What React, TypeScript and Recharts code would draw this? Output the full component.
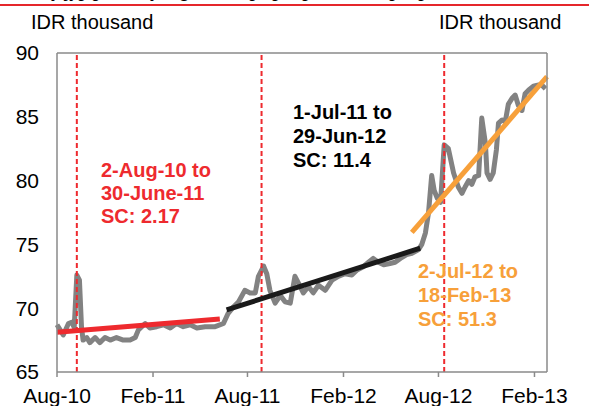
import { LineChart, Line, XAxis, YAxis, ReferenceLine } from 'recharts'

/* ── Data (days counted from 1-Aug-2010) ── */
const tickDays = [0, 184, 365, 549, 731, 915]
const tickLabels = ['Aug-10', 'Feb-11', 'Aug-11', 'Feb-12', 'Aug-12', 'Feb-13']
const yTicks = [65, 70, 75, 80, 85, 90]

const priceDays = [
  0, 6, 12, 22, 28, 33, 38, 43, 47, 50, 57, 63, 73, 82, 92, 102, 114, 127, 140, 150,
  156, 169, 178, 191, 204, 217, 229, 242, 255, 268, 284, 303, 319, 328, 338, 348, 360, 370, 380, 386,
  396, 402, 408, 418, 428, 437, 447, 456, 463, 472, 482, 491, 501, 514, 527, 539, 552, 565, 575, 587,
  597, 606, 616, 626, 638, 648, 658, 670, 680, 693, 699, 706, 712, 718, 723, 729, 735, 742, 750, 760,
  769, 776, 782, 789, 795, 801, 808, 814, 821, 824, 830, 836, 842, 846, 853, 859, 865, 872, 878, 884,
  891, 897, 904, 913, 923, 929, 936,
]
const priceVals = [
  68.7, 68.3, 67.9, 68.8, 68.9, 68.5, 72.6, 72.2, 68.5, 67.5, 67.7, 67.3, 67.7, 67.3, 67.7, 67.5, 67.7, 67.5, 67.5, 67.7,
  68.3, 68.8, 68.45, 68.55, 68.7, 68.45, 68.8, 68.55, 68.7, 68.45, 68.55, 68.55, 68.8, 69.6, 70.1, 70.5, 71.4, 71.2, 71.2, 72.5,
  73.3, 72.7, 71.4, 70.4, 71.0, 70.5, 70.4, 72.5, 71.95, 71.2, 71.7, 71.2, 71.8, 71.4, 72.2, 72.5, 72.7, 72.6, 73.0, 73.25,
  73.6, 73.9, 73.6, 73.4, 73.5, 73.6, 73.9, 74.2, 74.3, 74.6, 75.0, 75.9, 77.5, 80.4, 79.2, 78.6, 78.3, 82.8, 82.5, 80.6,
  79.5, 79.0, 79.5, 80.0, 79.7, 80.3, 80.4, 84.9, 82.9, 80.6, 80.1, 80.6, 82.4, 84.5, 84.75, 84.6, 86.0, 86.45, 86.7, 85.9,
  85.5, 86.8, 87.1, 87.4, 87.5, 87.5, 87.2,
]

const redTrendDays = [0, 312]
const redTrendVals = [68.11, 69.15]
const blackTrendDays = [325, 696]
const blackTrendVals = [69.86, 74.7]
const orangeTrendDays = [680, 939]
const orangeTrendVals = [75.95, 88.14]

const breakDays = [38, 392, 742]

const font = '"Liberation Sans", Arial, sans-serif'
const axisGrey = '#8a8a8a'
const red = '#ee2a2e'
const orange = '#f7a03a'

export default function App() {
  const priceData = priceDays.map((d, i) => ({ day: d, price: priceVals[i] }))
  const redData = redTrendDays.map((d, i) => ({ day: d, trend: redTrendVals[i] }))
  const blackData = blackTrendDays.map((d, i) => ({ day: d, trend: blackTrendVals[i] }))
  const orangeData = orangeTrendDays.map((d, i) => ({ day: d, trend: orangeTrendVals[i] }))

  const note = { position: 'absolute' as const, fontFamily: font, fontWeight: 700, fontSize: 20, whiteSpace: 'pre' as const }
  const tickFont = { fill: '#000', fontSize: 21, fontFamily: font }

  return (
    <div style={{ position: 'absolute', left: 0, top: 0, width: 589, height: 406, background: '#fff', overflow: 'hidden', fontFamily: font }}>
      {/* caption above the rule, cut off by the page edge */}
      <div style={{ position: 'absolute', left: 6, top: -19, fontFamily: '"Liberation Serif", "Times New Roman", serif', fontStyle: 'italic', fontWeight: 700, fontSize: 19, lineHeight: '20px', whiteSpace: 'pre' }}>
        Weekly jyp price, by regime, slope per period, in spot price, IDR
      </div>
      <div style={{ position: 'absolute', left: 0, top: 4, width: 589, height: 2, background: '#e5262b' }} />
      <div style={{ position: 'absolute', left: 31, top: 12, fontSize: 20, lineHeight: '20px' }}>IDR thousand</div>
      <div style={{ position: 'absolute', left: 439, top: 12, fontSize: 20, lineHeight: '20px' }}>IDR thousand</div>

      <LineChart width={589} height={406} margin={{ top: 0, right: 0, bottom: 0, left: 0 }} style={{ position: 'absolute', left: 0, top: 0 }}>
        <XAxis
          dataKey="day" type="number" domain={[0, 939]} ticks={tickDays} interval={0} height={34}
          tickFormatter={(v: number) => tickLabels[tickDays.indexOf(v)]}
          tick={tickFont}
          tickSize={5} tickMargin={11}
          tickLine={{ stroke: axisGrey, strokeWidth: 1.5 }}
          axisLine={{ stroke: axisGrey, strokeWidth: 1.5 }}
        />
        <XAxis xAxisId="top" orientation="top" dataKey="day" type="number" domain={[0, 939]} height={53} tick={false} tickLine={false} axisLine={{ stroke: axisGrey, strokeWidth: 1.5 }} />
        <YAxis
          domain={[65, 90]} ticks={yTicks} width={57} tickSize={0} tickMargin={18} tickLine={false}
          tick={tickFont}
          axisLine={{ stroke: axisGrey, strokeWidth: 1.5 }}
        />
        <YAxis
          yAxisId="right" orientation="right" domain={[65, 90]} ticks={yTicks} width={42} tickSize={0} tickMargin={17} tickLine={false}
          tick={tickFont}
          axisLine={{ stroke: axisGrey, strokeWidth: 1.5 }}
        />
        <Line data={priceData} dataKey="price" type="linear" stroke="#828282" strokeWidth={5} strokeLinejoin="round" dot={false} isAnimationActive={false} />
        {breakDays.map(d => (
          <ReferenceLine key={d} x={d} stroke={red} strokeWidth={2} strokeDasharray="5 3" />
        ))}
        <Line data={redData} dataKey="trend" stroke={red} strokeWidth={5} dot={false} isAnimationActive={false} />
        <Line data={blackData} dataKey="trend" stroke="#1a1a1a" strokeWidth={5} dot={false} isAnimationActive={false} />
        <Line data={orangeData} dataKey="trend" stroke={orange} strokeWidth={5} dot={false} isAnimationActive={false} />
      </LineChart>

      <div style={{ ...note, left: 101, top: 159, lineHeight: '23px', color: red }}>{'2-Aug-10 to\n30-June-11\nSC: 2.17'}</div>
      <div style={{ ...note, left: 293, top: 100, lineHeight: '24px', color: '#000' }}>{'1-Jul-11 to\n29-Jun-12\nSC: 11.4'}</div>
      <div style={{ ...note, left: 418, top: 259, lineHeight: '24px', color: orange }}>{'2-Jul-12 to\n18-Feb-13\nSC: 51.3'}</div>
    </div>
  )
}
